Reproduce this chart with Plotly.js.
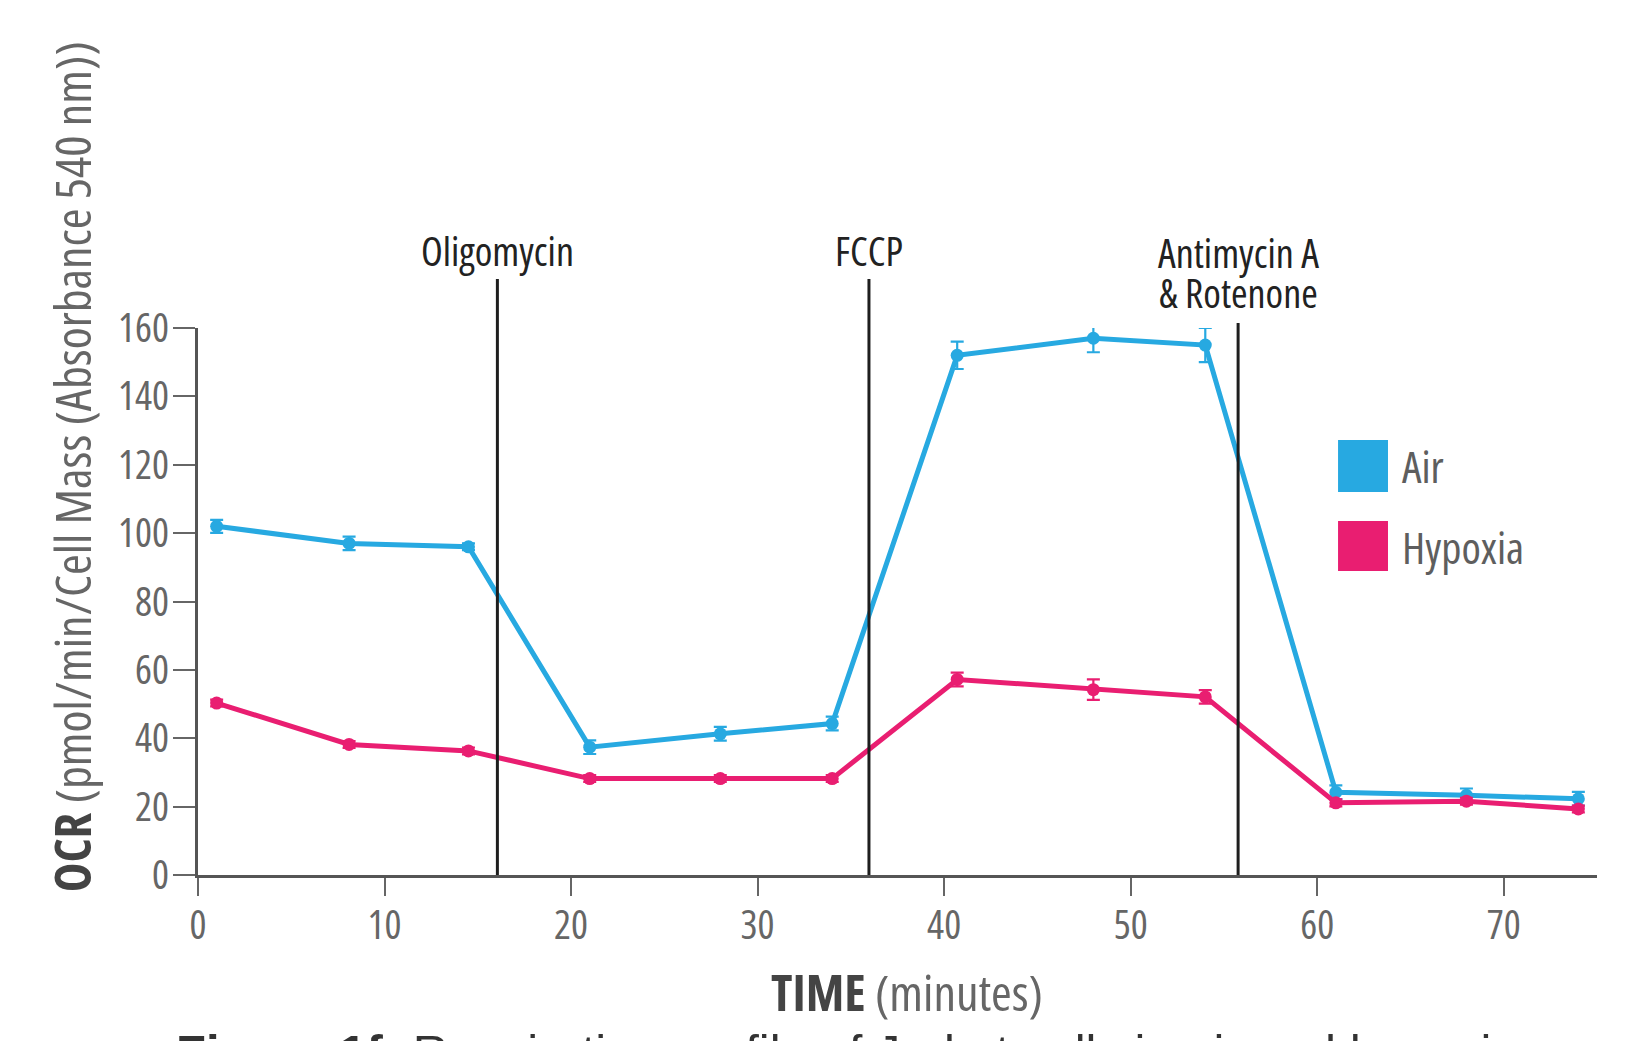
<!DOCTYPE html>
<html>
<head>
<meta charset="utf-8">
<script src="https://cdn.plot.ly/plotly-3.0.1.min.js"></script>
<style>
  html, body { margin: 0; padding: 0; background: #ffffff; }
  #chart { width: 1633px; height: 1041px; }
  svg .xtick text, svg .ytick text, svg .annotation-text { font-stretch: 75% !important; }
  svg .annotation-text.caption-text { font-stretch: 100% !important; }
</style>
</head>
<body>
<div id="chart"></div>
<script>
// ---- data ----
const timeAir      = [1.0, 8.1, 14.5, 21.0, 28.0, 34.0, 40.7, 48.0, 54.0, 61.0, 68.0, 74.0];
const ocrAir       = [102, 97, 96, 37.4, 41.3, 44.3, 152, 157, 155, 24.2, 23.3, 22.3];
const errAir       = [1.9, 2.0, 1.0, 2.0, 2.0, 2.0, 4.0, 4.1, 5.0, 2.0, 2.0, 2.0];
const timeHypoxia  = [1.0, 8.1, 14.5, 21.0, 28.0, 34.0, 40.7, 48.0, 54.0, 61.0, 68.0, 74.0];
const ocrHypoxia   = [50.3, 38.2, 36.3, 28.2, 28.2, 28.2, 57.2, 54.2, 52.1, 21.1, 21.6, 19.3];
const errHypoxia   = [1.0, 1.0, 1.0, 1.0, 1.0, 1.0, 2.0, 3.0, 2.0, 1.0, 1.0, 1.0];
const injectionTimes  = [16.05, 35.97, 55.76];
const injectionLabels = ['Oligomycin', 'FCCP', 'Antimycin A<br>& Rotenone'];
const seriesNames  = ['Air', 'Hypoxia'];
const yTickVals    = [0, 20, 40, 60, 80, 100, 120, 140, 160];
const xTickVals    = [0, 10, 20, 30, 40, 50, 60, 70];
const captionText  = "<b>Figure 1f:</b> Respiration profile of Jurkat cells in air and hypoxia";

// ---- styles ----
const BLUE = '#27A9E1';
const PINK = '#E91E71';
const NARROW = "'Open Sans', sans-serif";

function seriesTrace(name, x, y, err, color) {
  return {
    type: 'scatter', mode: 'lines+markers', name: name,
    x: x, y: y,
    line: { color: color, width: 5 },
    marker: { color: color, size: 13 },
    error_y: { type: 'data', array: err, visible: true, color: color, thickness: 2.2, width: 6.5 },
    showlegend: false, cliponaxis: false
  };
}

const data = [
  seriesTrace(seriesNames[0], timeAir, ocrAir, errAir, BLUE),
  seriesTrace(seriesNames[1], timeHypoxia, ocrHypoxia, errHypoxia, PINK)
];

const lineTops = [1.0896, 1.0896, 1.0091];
const labelYs  = [1.141, 1.141, 1.0896];

const shapes = injectionTimes.map((t, i) => ({
  type: 'line', xref: 'x', yref: 'paper', x0: t, x1: t, y0: 0, y1: lineTops[i],
  line: { color: '#1e1e1e', width: 3 }, layer: 'above'
}));

const legendColors = [BLUE, PINK];
const legendYs = [[0.7002, 0.7952], [0.5558, 0.6472]];
legendColors.forEach((c, i) => {
  shapes.push({
    type: 'rect', xref: 'paper', yref: 'paper',
    x0: 0.8149, x1: 0.8506, y0: legendYs[i][0], y1: legendYs[i][1],
    fillcolor: c, line: { width: 0 }
  });
});

const annotations = injectionTimes.map((t, i) => ({
  xref: 'x', yref: 'paper', x: t, y: labelYs[i],
  text: injectionLabels[i], showarrow: false,
  xanchor: 'center', yanchor: 'middle',
  font: { family: NARROW, size: 40, color: '#222222' }
}));

const legendTextYs = [0.7477, 0.5996];
seriesNames.forEach((n, i) => {
  annotations.push({
    xref: 'paper', yref: 'paper', x: 0.8592, y: legendTextYs[i],
    text: n, showarrow: false, xanchor: 'left', yanchor: 'middle',
    font: { family: NARROW, size: 44, color: '#5e5e5e' }
  });
});

annotations.push({
  xref: 'paper', yref: 'paper', x: -0.0899, y: 0.746, textangle: -90,
  text: "<b style='color:#444'>OCR</b> (pmol/min/Cell Mass (Absorbance 540 nm))",
  showarrow: false, xanchor: 'center', yanchor: 'middle',
  font: { family: NARROW, size: 50, color: '#666666' }
});
annotations.push({
  xref: 'paper', yref: 'paper', x: 0.5068, y: -0.2135,
  text: "<b style='color:#444'>TIME</b> (minutes)",
  showarrow: false, xanchor: 'center', yanchor: 'middle',
  font: { family: NARROW, size: 50, color: '#666666' }
});
annotations.push({
  xref: 'paper', yref: 'paper', x: -0.017, y: -0.27,
  text: captionText,
  showarrow: false, xanchor: 'left', yanchor: 'top',
  font: { family: "'Liberation Sans', Arial, sans-serif", size: 49, color: '#333333' }
});

const layout = {
  width: 1633, height: 1041,
  margin: { l: 198, r: 36, t: 328, b: 166 },
  paper_bgcolor: '#ffffff', plot_bgcolor: '#ffffff',
  showlegend: false,
  xaxis: {
    range: [0, 75], tickvals: xTickVals, ticks: 'outside', ticklen: 18, tickwidth: 2, tickcolor: '#666',
    ticklabelstandoff: -5,
    showline: true, linecolor: '#555', linewidth: 3, showgrid: false, zeroline: false,
    tickfont: { family: NARROW, size: 40, color: '#666666' }
  },
  yaxis: {
    range: [0, 160], tickvals: yTickVals, ticks: 'outside', ticklen: 22, tickwidth: 2, tickcolor: '#666',
    ticklabelstandoff: -4,
    showline: true, linecolor: '#555', linewidth: 3, showgrid: false, zeroline: false,
    tickfont: { family: NARROW, size: 40, color: '#666666' }
  },
  shapes: shapes,
  annotations: annotations
};

Plotly.newPlot('chart', data, layout, { displayModeBar: false, staticPlot: true }).then(gd => {
  // tighten the line spacing of the two-line injection label, and keep the caption un-condensed
  document.querySelectorAll('#chart .annotation-text').forEach(t => {
    if (t.textContent.indexOf('Rotenone') >= 0) {
      const lines = t.querySelectorAll('tspan.line');
      if (lines.length > 1) lines[1].setAttribute('dy', '0.99em');
    }
    if (t.textContent.indexOf('Figure') === 0) {
      t.classList.add('caption-text');
    }
  });
});
</script>
</body>
</html>
